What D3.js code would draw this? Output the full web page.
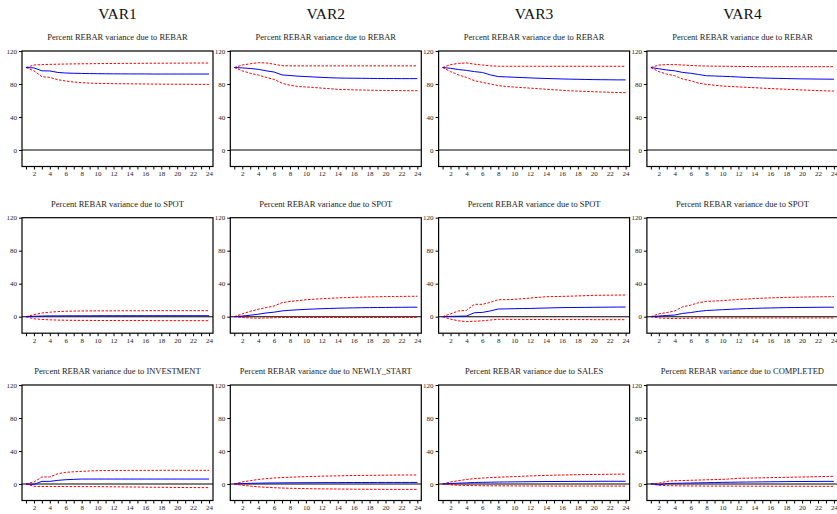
<!DOCTYPE html>
<html><head><meta charset="utf-8">
<script src="https://cdn.jsdelivr.net/npm/d3@7"></script>
<style>body{margin:0;background:#fff}svg{display:block}</style>
</head><body>
<svg id="c" width="837" height="514"></svg>
<script>
const periods = [1,2,3,4,5,6,7,8,9,10,11,12,13,14,15,16,17,18,19,20,21,22,23,24];
const xTickLabels = [2,4,6,8,10,12,14,16,18,20,22,24];
const yTickLabels = [0,40,80,120];
const columnTitles = ["VAR1","VAR2","VAR3","VAR4"];
const shockNames = [
  ["REBAR","REBAR","REBAR","REBAR"],
  ["SPOT","SPOT","SPOT","SPOT"],
  ["INVESTMENT","NEWLY_START","SALES","COMPLETED"]
];

// Row 1: REBAR
const r1c1_mean = [100,99.5,96,95.8,94,93.3,93,92.8,92.6,92.5,92.4,92.3,92.3,92.2,92.2,92.2,92.1,92.1,92.1,92.1,92.1,92.1,92.1,92.1];
const r1c1_up   = [100,103,103.5,103.8,104,104.2,104.4,104.5,104.6,104.7,104.8,104.9,105,105,105.1,105.1,105.2,105.2,105.3,105.3,105.3,105.4,105.4,105.4];
const r1c1_lo   = [100,96,88.9,88,85.2,83.6,82.4,81.6,81,80.8,80.6,80.4,80.3,80.2,80.1,80,79.9,79.8,79.8,79.7,79.7,79.6,79.6,79.6];
const r1c2_mean = [100,99.5,98.8,97.8,96,94.5,91,90.3,89.5,89,88.5,88,87.6,87.3,87.1,87,86.9,86.8,86.7,86.6,86.6,86.5,86.5,86.5];
const r1c2_up   = [100,103,104.5,105.8,105.5,104,102.2,102,102,102,102,102,102,102,102,102,102,102,102,102,102,102,102,102];
const r1c2_lo   = [100,96,93,90.9,88,85.5,81,78.5,77,76.4,75.8,75,74.3,73.5,73.2,72.9,72.7,72.5,72.3,72.2,72.1,72,71.9,71.9];
const r1c3_mean = [100,99,97.5,96.5,95,94,91,89,88.6,88.2,87.8,87.4,87,86.7,86.4,86.1,85.9,85.7,85.5,85.3,85.2,85.1,85,85];
const r1c3_up   = [100,103.5,105,105.5,104,103,102,101.5,101.5,101.5,101.5,101.5,101.5,101.5,101.5,101.5,101.5,101.5,101.5,101.5,101.5,101.5,101.5,101.5];
const r1c3_lo   = [100,95,91,88,84,82,80,78,77,76.3,75.6,75,74.3,73.6,73,72.4,71.8,71.4,71,70.6,70.3,70,69.7,69.5];
const r1c4_mean = [100,98.5,97,96,94,93,91.5,90,89.7,89.3,89,88.5,88,87.6,87.3,87,86.8,86.6,86.4,86.2,86.1,86,85.9,85.8];
const r1c4_up   = [100,103,103.5,103.5,103,102.5,102,101.8,101.6,101.5,101.4,101.3,101.2,101.1,101,101,101,101,101,101,101,101,101,101];
const r1c4_lo   = [100,95,92,90,86,84,81,79.5,78.5,77.5,77,76.5,76,75.5,75,74.5,74,73.6,73.2,72.8,72.4,72,71.7,71.4];

// Row 2: SPOT
const r2c1_mean = [0,0.5,0.8,1,1,1.1,1.1,1.1,1.1,1.2,1.2,1.2,1.2,1.2,1.2,1.2,1.2,1.2,1.2,1.2,1.2,1.2,1.2,1.2];
const r2c1_up   = [0,2.5,4.5,5.5,6.2,6.6,6.8,7,7,7.1,7.1,7.1,7.2,7.2,7.2,7.2,7.3,7.3,7.3,7.3,7.3,7.3,7.3,7.3];
const r2c1_lo   = [0,-2.5,-3.3,-3.8,-4.1,-4.3,-4.4,-4.5,-4.5,-4.6,-4.6,-4.6,-4.7,-4.7,-4.7,-4.7,-4.8,-4.8,-4.8,-4.8,-4.8,-4.8,-4.8,-4.8];
const r2c2_mean = [0,0.8,1.8,3,4.5,5.5,7,7.8,8.4,8.9,9.3,9.7,10,10.3,10.5,10.7,10.9,11,11.1,11.2,11.3,11.4,11.5,11.5];
const r2c2_up   = [0,3.5,6.5,9,11,13,17,18.5,19.5,20.5,21.2,21.8,22.3,22.8,23.2,23.5,23.8,24,24.2,24.4,24.5,24.6,24.7,24.8];
const r2c2_lo   = [0,-1,-1.5,-1.8,-1.5,-1.3,-1,-1,-1,-1,-1,-1,-1,-1,-1,-1,-1,-1,-1,-1,-1,-1,-1,-1];
const r2c3_mean = [0,0.4,0.6,0.8,4.8,5.2,7,9.3,9.5,9.7,9.9,10,10.3,10.5,10.8,11,11.1,11.2,11.3,11.4,11.5,11.6,11.7,11.7];
const r2c3_up   = [0,3.5,7,7.7,15,15,17.4,20.6,20.6,21,21.8,22.6,23.4,24.2,24.4,24.6,24.9,25.2,25.5,25.9,26,26.1,26.2,26.3];
const r2c3_lo   = [0,-3,-5,-6,-5.5,-5,-4,-3.2,-3.2,-3.3,-3.3,-3.4,-3.4,-3.4,-3.5,-3.5,-3.5,-3.5,-3.5,-3.6,-3.6,-3.6,-3.6,-3.6];
const r2c4_mean = [0,0.8,1.5,2,4,5,6.5,7.5,8,8.5,9,9.4,9.8,10.1,10.4,10.6,10.8,11,11.1,11.2,11.3,11.4,11.5,11.5];
const r2c4_up   = [0,3.5,5,7,12,14,17,18.5,19,19.5,20.2,20.8,21.4,22,22.4,22.8,23.1,23.4,23.6,23.8,24,24.1,24.2,24.3];
const r2c4_lo   = [0,-1.5,-2,-2.2,-2,-1.8,-1.6,-1.5,-1.5,-1.5,-1.5,-1.5,-1.5,-1.5,-1.5,-1.5,-1.5,-1.5,-1.5,-1.5,-1.5,-1.5,-1.5,-1.5];

// Row 3: INVESTMENT, NEWLY_START, SALES, COMPLETED
const r3c1_mean = [0,-0.5,3.2,3.2,4.4,5.2,5.6,6,6,6,6,6,6,6,6,6,6,6,6,6,6,6,6,6];
const r3c1_up   = [0,2.4,8.5,8.5,12.5,14.1,14.8,15.3,15.8,16.2,16.3,16.4,16.4,16.5,16.5,16.5,16.5,16.6,16.6,16.6,16.6,16.6,16.6,16.6];
const r3c1_lo   = [0,-2.8,-3,-3,-3,-3.1,-3.1,-3.2,-3.2,-3.2,-3.3,-3.4,-3.5,-3.6,-3.7,-3.8,-3.9,-4,-4.1,-4.2,-4.3,-4.3,-4.4,-4.4];
const r3c2_mean = [0,0.5,0.8,1,1.2,1.3,1.4,1.5,1.5,1.6,1.6,1.7,1.7,1.7,1.8,1.8,1.8,1.8,1.9,1.9,1.9,1.9,1.9,1.9];
const r3c2_up   = [0,2.5,4,5.5,6.5,7.3,7.8,8.2,8.6,8.9,9.2,9.5,9.7,9.9,10.1,10.3,10.4,10.5,10.6,10.7,10.8,10.9,11,11];
const r3c2_lo   = [0,-1.5,-2.5,-3.4,-4,-4.5,-4.9,-5.2,-5.4,-5.6,-5.8,-5.9,-6,-6.1,-6.2,-6.3,-6.3,-6.4,-6.4,-6.5,-6.5,-6.5,-6.5,-6.5];
const r3c3_mean = [0,0.5,1,1.4,1.8,2,2.2,2.4,2.5,2.6,2.7,2.8,2.9,3,3,3.1,3.1,3.2,3.2,3.2,3.3,3.3,3.3,3.3];
const r3c3_up   = [0,2.5,4,5.5,6.5,7.2,7.8,8.2,8.6,9,9.4,9.8,10.1,10.4,10.7,10.9,11.1,11.3,11.5,11.6,11.7,11.8,11.9,12];
const r3c3_lo   = [0,-1,-1.5,-1.8,-2,-2.1,-2.2,-2.2,-2.3,-2.3,-2.4,-2.4,-2.4,-2.5,-2.5,-2.5,-2.5,-2.5,-2.5,-2.5,-2.5,-2.5,-2.5,-2.5];
const r3c4_mean = [0.5,-1,0.5,0.8,1,1.2,1.4,1.6,1.8,2,2.1,2.3,2.4,2.5,2.6,2.7,2.8,2.9,3,3,3.1,3.1,3.2,3.2];
const r3c4_up   = [0,1,3.2,4,4.2,4.5,4.8,5.1,5.4,5.6,6.2,6.9,7.1,7.3,7.5,7.7,7.9,8.1,8.3,8.5,8.7,8.9,9.1,9.3];
const r3c4_lo   = [0,-1.5,-2,-2.2,-2.3,-2.4,-2.4,-2.5,-2.5,-2.5,-2.5,-2.6,-2.6,-2.6,-2.6,-2.7,-2.7,-2.7,-2.7,-2.7,-2.8,-2.8,-2.8,-2.8];

const panels = [
  [[r1c1_mean,r1c1_up,r1c1_lo],[r1c2_mean,r1c2_up,r1c2_lo],[r1c3_mean,r1c3_up,r1c3_lo],[r1c4_mean,r1c4_up,r1c4_lo]],
  [[r2c1_mean,r2c1_up,r2c1_lo],[r2c2_mean,r2c2_up,r2c2_lo],[r2c3_mean,r2c3_up,r2c3_lo],[r2c4_mean,r2c4_up,r2c4_lo]],
  [[r3c1_mean,r3c1_up,r3c1_lo],[r3c2_mean,r3c2_up,r3c2_lo],[r3c3_mean,r3c3_up,r3c3_lo],[r3c4_mean,r3c4_up,r3c4_lo]]
];

const svg = d3.select("#c");
const FONT = "'Liberation Serif','Times New Roman',serif";
const colLeft = [22, 230.3, 438.6, 646.9];
const rowTop = [51, 217.7, 385];
const W = 191, H = 115.5;

const x = d3.scaleLinear().domain([0.5, 24.5]).range([0, W]);
const y = d3.scaleLinear().domain([-20, 120]).range([H, 0]);

columnTitles.forEach((t, c) => {
  svg.append("text").attr("x", colLeft[c] + W/2).attr("y", 18.5)
    .attr("text-anchor", "middle").attr("font-family", FONT).attr("font-size", 15.5)
    .attr("fill", "#111").text(t);
});

panels.forEach((row, r) => {
  row.forEach((series, c) => {
    const g = svg.append("g").attr("transform", `translate(${colLeft[c]},${rowTop[r]})`);
    g.append("text").attr("x", W/2).attr("y", -11).attr("text-anchor", "middle")
      .attr("font-family", FONT).attr("font-size", 8.5).attr("fill", "#222")
      .text(`Percent REBAR variance due to ${shockNames[r][c]}`);

    // zero line
    g.append("line").attr("x1", 0).attr("x2", W).attr("y1", y(0)).attr("y2", y(0))
      .attr("stroke", "#000").attr("stroke-width", 1.1);

    const line = d3.line().x((d, i) => x(periods[i])).y(d => y(d));
    const [mean, up, lo] = series;
    [up, lo].forEach(s => {
      g.append("path").attr("d", line(s)).attr("fill", "none")
        .attr("stroke", "#ff0000").attr("stroke-width", 1).attr("stroke-dasharray", "2.5,1.5");
    });
    g.append("path").attr("d", line(mean)).attr("fill", "none")
      .attr("stroke", "#0000ff").attr("stroke-width", 1);

    // frame
    g.append("rect").attr("x", 0).attr("y", 0).attr("width", W).attr("height", H)
      .attr("fill", "none").attr("stroke", "#000").attr("stroke-width", 1.2);

    // y axis
    const ya = g.append("g").call(d3.axisLeft(y).tickValues(yTickLabels).tickSize(3).tickPadding(2).tickFormat(d3.format("d")));
    ya.select(".domain").remove();
    ya.selectAll("text").attr("font-family", FONT).attr("font-size", 7).attr("fill", "#222");
    ya.selectAll("line").attr("stroke", "#000");

    // x axis
    const xa = g.append("g").attr("transform", `translate(0,${H})`)
      .call(d3.axisBottom(x).tickValues(periods).tickSize(3).tickPadding(2)
        .tickFormat(d => xTickLabels.includes(d) ? d : ""));
    xa.select(".domain").remove();
    xa.selectAll("text").attr("font-family", FONT).attr("font-size", 7).attr("fill", "#222");
    xa.selectAll("line").attr("stroke", "#000");
  });
});
</script>
</body></html>
